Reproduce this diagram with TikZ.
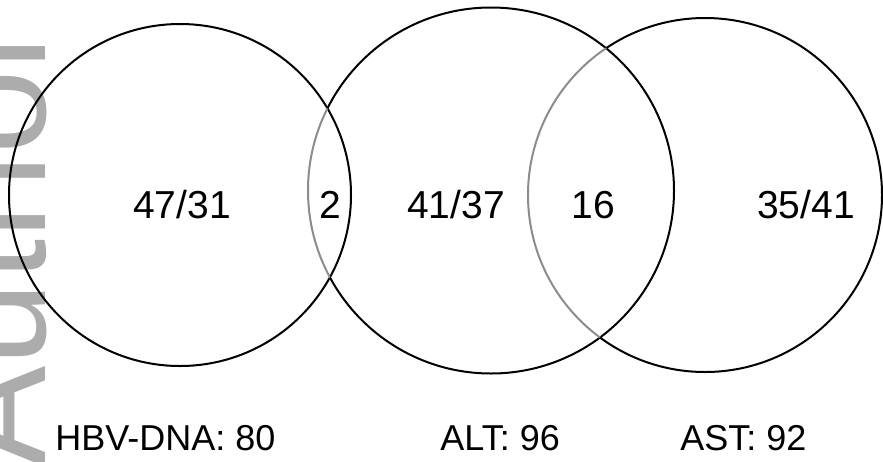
\documentclass[tikz,border=0pt]{standalone}
\usepackage{fontspec}
\setmainfont{Liberation Sans}
\begin{document}
\begin{tikzpicture}[x=0.5pt,y=-0.5pt]
\definecolor{wmgray}{RGB}{172,172,172}
\definecolor{arcgray}{RGB}{140,140,140}
\tikzset{
  num/.style={anchor=base,font=\fontsize{19.5}{23}\selectfont,inner sep=0pt},
  lab/.style={anchor=base west,font=\fontsize{18}{22}\selectfont,inner sep=0pt},
  ring/.style={line width=1pt,draw=black},
  ringgray/.style={line width=1pt,draw=arcgray}
}
\useasboundingbox (0,0) rectangle (883,461);
% watermark
\begin{scope}
  \clip (0,0) rectangle (883,461);
  \node[text=wmgray,rotate=90,anchor=base west,inner sep=0pt,
        font=\fontsize{76}{80}\selectfont] (wmark) at (45,468) {Author};
\end{scope}
% left circle
\draw[ring] (180,195) circle [radius=171];
% middle circle
\begin{scope}[even odd rule]
  \clip (-10,-10) rectangle (893,471) (180,195) circle [radius=171];
  \draw[ring] (491,190.5) circle [radius=183];
\end{scope}
\begin{scope}
  \clip (180,195) circle [radius=171];
  \draw[ringgray] (491,190.5) circle [radius=183];
\end{scope}
% right circle
\begin{scope}[even odd rule]
  \clip (-10,-10) rectangle (893,471) (491,190.5) circle [radius=183];
  \draw[ring] (705,195) circle [radius=177];
\end{scope}
\begin{scope}
  \clip (491,190.5) circle [radius=183];
  \draw[ringgray] (705,195) circle [radius=177];
\end{scope}
% numbers
\node[num] (n1) at (182,218) {47/31};
\node[num] (n2) at (330,218) {2};
\node[num] (n3) at (456,218) {41/37};
\node[num] (n4) at (593,218) {16};
\node[num] (n5) at (806,218) {35/41};
% labels
\node[lab] (l1) at (55,450) {HBV-DNA: 80};
\node[lab] (l2) at (440,450) {ALT: 96};
\node[lab] (l3) at (680,450) {AST: 92};
\end{tikzpicture}
\end{document}
